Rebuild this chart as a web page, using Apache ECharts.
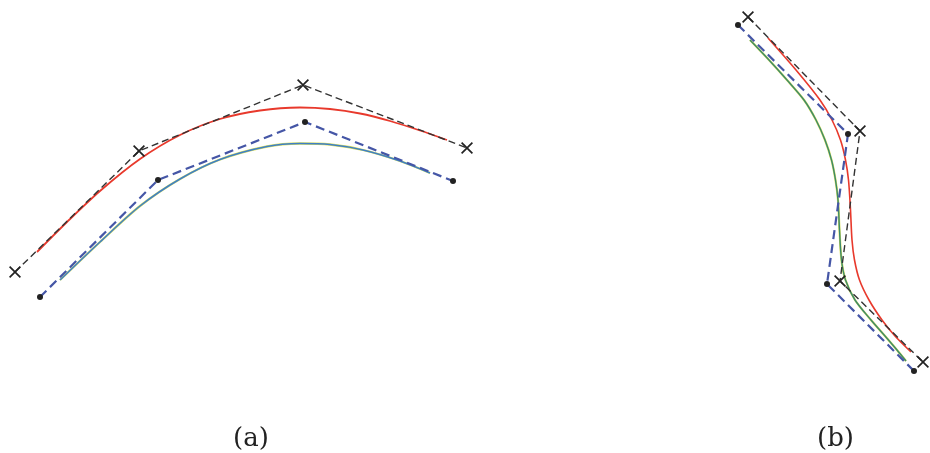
<!DOCTYPE html>
<html>
<head>
<meta charset="utf-8">
<script src="https://cdn.jsdelivr.net/npm/echarts@6/dist/echarts.min.js"></script>
<style>html,body{margin:0;padding:0;background:#fff}#c{width:930px;height:453px}</style>
</head>
<body>
<div id="c"></div>
<script>
// Panel (a)
var blackA = [[15,272],[139,151],[303,85],[467,148]];
var blueA  = [[40,297],[158,180],[305,122],[453,181]];
var redA   = [[37,252],[67,222],[100,191],[140,159],[180,135],[220,119],[260,110.5],[300,107.5],[330,109],[360,113.5],[390,121],[420,130.5],[447,140]];
var greenA = [[60,280],[100,242],[140,206],[180,179],[220,159.5],[267,146.5],[300,143.5],[330,144.5],[363,150],[400,161],[430,173]];
// Panel (b)
var blackB = [[748,17],[860,131],[840,281],[923,362]];
var blueB  = [[738,25],[848,134],[827,284],[914,371]];
var redB   = [[768,38],[796,70],[820,100],[832,120],[840.5,140],[845.5,160],[848.5,180],[850.5,210],[852,240],[854.5,260],[859.5,280],[869,300],[882,320],[895,336],[911,352]];
var greenB = [[750,40],[769,60],[787,80],[804,100],[816,120],[825,140],[831.5,160],[835.5,180],[838,200],[839.5,230],[841.5,260],[845.5,280],[855,300],[871,320],[885,336],[897,350],[906,361]];
var labels = ['(a)','(b)'];

var cross = 'path://M0,1 L1,0 L5,4 L9,0 L10,1 L6,5 L10,9 L9,10 L5,6 L1,10 L0,9 L4,5 Z';

function curve(data, color, width, z) {
  return {type:'line', data:data, smooth:0.3, symbol:'none', z:z,
    lineStyle:{color:color, width:width}, silent:true, animation:false};
}
function poly(data, color, width, dash, sym, symSize, z) {
  return {type:'line', data:data, smooth:false, symbol:sym, symbolSize:symSize, showSymbol:true, z:z,
    itemStyle:{color:'#222'},
    lineStyle:{color:color, width:width, type:dash}, silent:true, animation:false};
}

var chart = echarts.init(document.getElementById('c'));
chart.setOption({
  backgroundColor:'#fff',
  animation:false,
  grid:{left:0,right:0,top:0,bottom:0},
  xAxis:{type:'value', min:0, max:930, show:false},
  yAxis:{type:'value', min:0, max:453, inverse:true, show:false},
  series:[
    curve(redA, '#e8392c', 1.8, 2),
    curve(greenA, '#d9df5a', 2.3, 2),
    curve(greenA, '#3f7fc6', 1.5, 3),
    curve(redB, '#e8392c', 1.6, 2),
    curve(greenB, '#d9df5a', 2.2, 2),
    curve(greenB, '#3d8a6a', 1.4, 3),
    poly(blackA, '#333', 1.4, [7,4], cross, 12, 5),
    poly(blueA, '#4556a6', 2.2, [9,5], 'circle', 6, 5),
    poly(blackB, '#333', 1.4, [7,4], cross, 12, 5),
    poly(blueB, '#4556a6', 2.2, [9,5], 'circle', 6, 5)
  ],
  graphic:[
    {type:'text', left:233, top:426, style:{text:labels[0], font:'26px "DejaVu Serif"', fill:'#222'}},
    {type:'text', left:817, top:426, style:{text:labels[1], font:'26px "DejaVu Serif"', fill:'#222'}}
  ]
});
</script>
</body>
</html>
